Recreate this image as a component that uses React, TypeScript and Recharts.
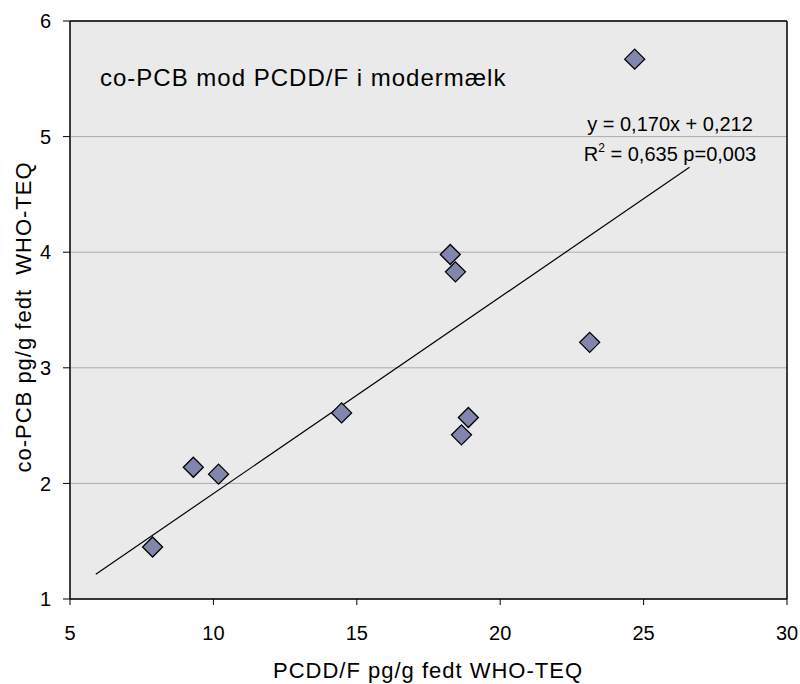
import React from 'react';
import {
  ScatterChart,
  Scatter,
  XAxis,
  YAxis,
  CartesianGrid,
  ReferenceLine,
} from 'recharts';

// PCDD/F (x) vs co-PCB (y), pg/g fedt WHO-TEQ
const pcddf = [7.88, 9.3, 10.18, 14.47, 18.26, 18.44, 18.65, 18.89, 23.12, 24.69];
const coPcb = [1.45, 2.14, 2.08, 2.61, 3.98, 3.83, 2.42, 2.57, 3.22, 5.67];

// trendline y = 0,170x + 0,212 drawn from x=5.9 to x=26.6
const slope = 0.17;
const intercept = 0.212;
const trendX = [5.9, 26.6];

const xTicks = [5, 10, 15, 20, 25, 30];
const yTicks = [1, 2, 3, 4, 5, 6];

const points = pcddf.map((x, i) => ({ x, y: coPcb[i] }));
const trend = trendX.map((x) => ({ x, y: slope * x + intercept }));

const FONT = '"Liberation Sans", Arial, sans-serif';

const Diamond = (props: any) => {
  const { cx, cy } = props;
  if (cx == null || cy == null) return <g />;
  const r = 10;
  return (
    <polygon
      points={`${cx},${cy - r} ${cx + r},${cy} ${cx},${cy + r} ${cx - r},${cy}`}
      fill="#8286AC"
      stroke="#000"
      strokeWidth={1.3}
    />
  );
};

const NoDot = () => <g />;

export default function App() {
  return (
    <div style={{ position: 'absolute', left: 0, top: 0, width: 800, height: 684 }}>
      <ScatterChart
        width={800}
        height={684}
        margin={{ top: 21, right: 13, bottom: 0, left: 0 }}
        style={{ fontFamily: FONT }}
      >
        <CartesianGrid
          horizontal
          vertical={false}
          stroke="#ABABAB"
          fill="#EAEAEA"
          fillOpacity={1}
        />
        <XAxis
          type="number"
          dataKey="x"
          domain={[5, 30]}
          ticks={xTicks}
          height={85}
          axisLine={{ stroke: '#000', strokeWidth: 1.5 }}
          tickLine={{ stroke: '#000' }}
          tickSize={6}
          tickMargin={21}
          tick={{ fill: '#000', fontSize: 20, fontFamily: FONT }}
          allowDataOverflow
        />
        <YAxis
          type="number"
          dataKey="y"
          domain={[1, 6]}
          ticks={yTicks}
          width={70}
          axisLine={{ stroke: '#000', strokeWidth: 1.5 }}
          tickLine={{ stroke: '#000' }}
          tickSize={7}
          tickMargin={12}
          tick={{ fill: '#000', fontSize: 20, fontFamily: FONT }}
          allowDataOverflow
        />
        <ReferenceLine y={6} stroke="#000" strokeWidth={1.5} />
        <ReferenceLine x={30} stroke="#000" strokeWidth={1.5} />
        <Scatter
          data={trend}
          line={{ stroke: '#000', strokeWidth: 1.2 }}
          shape={NoDot}
          isAnimationActive={false}
        />
        <Scatter data={points} shape={Diamond} isAnimationActive={false} />
        <text x={100} y={86} fontSize={24} letterSpacing={1} fill="#000" fontFamily={FONT}>
          co-PCB mod PCDD/F i modermælk
        </text>
        <text x={670} y={131} fontSize={20} textAnchor="middle" fill="#000" fontFamily={FONT}>
          y = 0,170x + 0,212
        </text>
        <text x={670} y={161} fontSize={20} textAnchor="middle" fill="#000" fontFamily={FONT}>
          R<tspan fontSize={12} dy={-9}>2</tspan>
          <tspan dy={9}> = 0,635 p=0,003</tspan>
        </text>
        <text
          x={428}
          y={678}
          fontSize={22}
          letterSpacing={1}
          textAnchor="middle"
          fill="#000"
          fontFamily={FONT}
        >
          PCDD/F pg/g fedt WHO-TEQ
        </text>
        <text
          transform="translate(31, 317) rotate(-90)"
          fontSize={22}
          letterSpacing={1}
          textAnchor="middle"
          fill="#000"
          fontFamily={FONT}
        >
          {'co-PCB pg/g fedt\u00A0 WHO-TEQ'}
        </text>
      </ScatterChart>
    </div>
  );
}
